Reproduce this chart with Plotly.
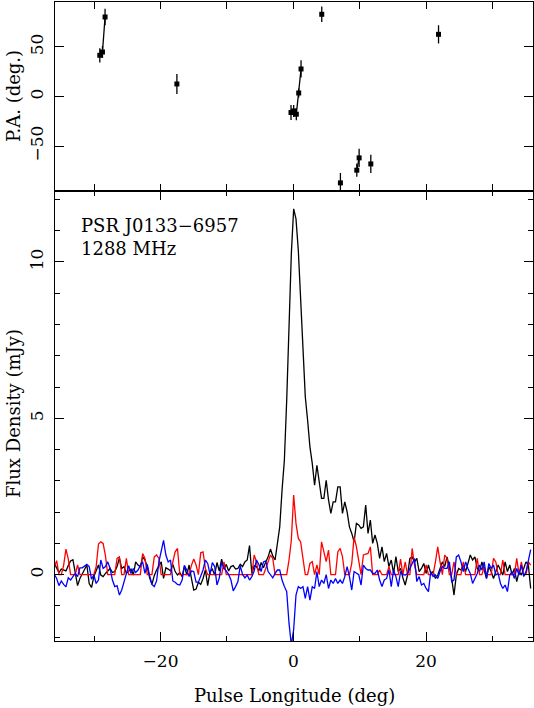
import numpy as np
import plotly.graph_objects as go

# ---------------- data ----------------
LON0 = -36.0      # longitude of first profile bin (deg)
DLON = 0.35       # bin width (deg)

# Total intensity (black), mJy
I_vals = [0.36,0.22,0.07,0.18,0.15,0.12,0.29,0.44,0.48,0.10,
          -0.35,-0.12,0.01,0.16,0.31,-0.28,-0.41,-0.06,0.10,0.31,
          -0.01,-0.06,0.04,0.12,0.20,0.07,0.10,0.26,0.54,0.20,
          0.26,0.04,0.10,0.18,-0.01,0.41,0.31,0.26,0.57,0.47,
          0.26,-0.10,-0.31,-0.03,0.15,0.29,0.41,-0.12,0.22,0.18,
          0.12,0.33,0.10,-0.01,0.07,
          -0.06,0.29,-0.01,0.31,-0.12,-0.49,-0.46,-0.24,-0.31,-0.12,
          0.15,-0.35,0.10,0.18,-0.01,0.39,0.12,0.50,0.18,0.33,
          0.12,0.26,0.29,0.18,0.20,0.33,0.26,0.41,0.47,0.93,
          0.04,0.29,0.26,0.12,0.39,0.22,0.41,0.57,0.82,0.60,
          0.47,1.00,1.53,2.70,3.66,5.58,7.70,10.27,11.70,11.38,
          10.37,8.77,7.50,5.69,4.94,4.09,3.56,2.86,3.50,2.97,
          2.44,2.44,3.02,2.39,1.96,2.33,2.33,2.81,2.81,1.96,
          2.33,2.01,1.53,1.32,1.05,1.64,1.59,1.48,1.53,2.23,
          1.32,1.75,1.00,1.27,1.00,0.52,0.89,0.42,0.68,0.26,
          0.47,0.04,0.58,0.10,
          0.20,-0.10,
          -0.33,-0.01,0.52,0.57,0.41,0.52,0.10,0.20,0.36,0.04,
          0.31,0.04,0.10,-0.12,-0.01,0.20,0.41,0.26,0.57,0.26,
          -0.12,-0.65,-0.01,0.20,0.15,0.31,0.10,0.36,0.63,0.47,
          0.57,0.20,0.10,0.41,0.10,-0.12,0.26,0.10,-0.12,0.10,
          0.31,0.15,-0.01,0.41,0.10,0.31,-0.01,0.20,-0.22,0.10,
          -0.01,0.20,0.41,0.31,-0.44]

# Linear polarisation (red), mJy
L_vals = [0.25,0.45,0,0,0.30,0.82,0.50,0,0,0,
          0.31,0,0,0,0,0,0,0,0.26,0.98,
          1.05,1.00,0.60,0,0,0,0,0.52,0.57,0,
          0,0.52,0,0,0,0,0,0,0.68,0.52,
          0,0,0,0.57,0.63,0.52,0,0,0,0,
          0,0.41,0.73,0.84,0,
          0,0,0,0,0.30,0.50,0.31,0,0.70,0.73,
          0.20,0,0,0,0,0,0,0,0.41,0,
          0,0,0,0,0,0,0,0,0,0,
          0,0.63,0.41,0,0,0,0.20,0.41,0.63,0.52,
          0,0,0,0,0,0,0.47,1.10,2.55,1.64,
          1.16,1.05,0.52,0,0,0.36,0.42,0,0.31,0,
          1.05,0.68,0.42,0.79,0,0,0,0.73,0.84,0.58,
          0,0,0,0.36,1.21,0.89,0.47,0,0.63,0.66,
          0.68,0.89,0,0,0,0.15,0,0,0,0.26,
          0,0,0,0,
          0.50,0,
          0.41,0,0,0.84,0.31,0,0,0,0,0.31,
          0,0,0,0.41,0.89,0.41,0,0.63,0.52,0,
          0,0.41,0,0,0,0.41,0,0,0,0,
          0,0.52,0,0,0.26,0,0,0,0.52,0.41,
          0,0,0.47,0,0,0,0,0,0.52,0,
          0.41,0,0,0.41,0.31]

# Circular polarisation (blue), mJy
V_vals = [0.01,-0.12,-0.35,-0.20,-0.31,-0.39,-0.10,-0.17,-0.06,0.04,
          -0.06,0.22,0.22,0.29,0.33,0.26,-0.14,-0.01,-0.28,-0.17,
          0.47,0.20,0.26,0.41,0.20,-0.17,-0.38,-0.35,-0.65,-0.49,
          -0.22,-0.01,0.29,0.04,0.20,0.07,0.15,0.29,0.41,0.04,
          0.33,-0.03,-0.31,-0.38,-0.20,0.41,0.71,1.10,0.63,0.41,
          0.47,-0.20,-0.24,-0.31,-0.33,
          -0.17,0.29,0.15,-0.06,0.12,0.10,-0.24,-0.24,-0.01,0.15,
          0.47,0.36,0.01,0.39,0.26,-0.33,-0.10,0.39,0.22,0.10,
          0.01,-0.17,-0.52,-0.38,-0.22,0.29,0.01,-0.10,-0.01,-0.17,
          -0.06,0.12,0.47,0.33,0.10,0.41,0.44,0.10,-0.01,-0.10,
          0.04,0.15,0.15,-0.17,-0.38,-0.54,-1.55,-2.25,-1.75,-0.65,
          -0.38,-0.44,-0.38,-0.76,-0.38,-0.81,-0.38,-0.44,0.10,-0.38,
          -0.17,-0.28,0.00,-0.44,-0.17,-0.28,-0.12,-0.28,-0.17,-0.28,
          -0.06,0.26,-0.06,-0.49,0.10,0.04,0.00,-0.33,0.31,0.20,
          0.15,0.15,0.04,0.04,0.15,-0.17,-0.38,-0.17,-0.12,0.15,
          -0.38,0.15,-0.06,-0.38,
          0.10,0.00,
          -0.01,0.04,0.20,0.31,0.52,-0.22,-0.06,-0.33,-0.28,-0.44,
          -0.54,0.10,-0.06,-0.01,-0.12,0.10,0.26,0.20,0.20,0.41,
          -0.22,-0.17,0.57,0.63,0.41,0.10,0.41,0.20,0.04,-0.28,
          -0.12,0.04,0.31,0.15,0.41,-0.12,0.36,0.20,0.31,-0.01,
          0.04,-0.28,-0.44,-0.33,-0.54,-0.01,0.10,-0.12,0.20,-0.01,
          0.31,-0.06,0.10,0.40,0.80]

# Position angle points
PA_lon = [-29.15, -28.75, -28.36, -17.54, -0.35, 0.05, 0.45, 0.81, 1.16,
          4.28, 7.09, 9.56, 9.91, 11.67, 21.87]
PA_deg = [41.6, 44.9, 80.2, 12.7, -16.1, -14.5, -17.8, 3.6, 27.8,
          82.9, -87.0, -74.2, -61.8, -67.9, 62.7]
PA_err = [7.2, 6.0, 8.3, 10.0, 7.5, 6.0, 6.0, 4.5, 8.7,
          7.8, 10.0, 6.7, 9.2, 9.2, 9.2]

PSR_NAME = "PSR J0133\u22126957"
FREQ = "1288 MHz"

# ---------------- figure ----------------
lon = LON0 + DLON * np.arange(len(I_vals))

# connect only adjacent PA bins
pa_x, pa_y = [], []
for k in range(len(PA_lon)):
    if k > 0 and PA_lon[k] - PA_lon[k - 1] > 0.6:
        pa_x.append(None)
        pa_y.append(None)
    pa_x.append(PA_lon[k])
    pa_y.append(PA_deg[k])

FONT = "DejaVu Serif"
LW = 1.3

fig = go.Figure()
fig.add_trace(go.Scatter(x=lon, y=I_vals, mode="lines",
                         line=dict(color="black", width=LW),
                         xaxis="x", yaxis="y", showlegend=False))
fig.add_trace(go.Scatter(x=lon, y=L_vals, mode="lines",
                         line=dict(color="#ff0000", width=LW),
                         xaxis="x", yaxis="y", showlegend=False))
fig.add_trace(go.Scatter(x=lon, y=V_vals, mode="lines",
                         line=dict(color="#0000ff", width=LW),
                         xaxis="x", yaxis="y", showlegend=False))

fig.add_trace(go.Scatter(x=pa_x, y=pa_y, mode="lines",
                         line=dict(color="black", width=LW),
                         xaxis="x2", yaxis="y2", showlegend=False))
fig.add_trace(go.Scatter(x=PA_lon, y=PA_deg, mode="markers",
                         marker=dict(symbol="square", size=5, color="black"),
                         error_y=dict(type="data", array=PA_err, visible=True,
                                      color="black", thickness=1.3, width=0),
                         xaxis="x2", yaxis="y2", showlegend=False))

split = 0.7042
axis_common = dict(showline=True, linecolor="black", linewidth=1,
                   mirror="ticks", ticks="inside", tickcolor="black",
                   tickwidth=1, showgrid=False, zeroline=False,
                   tickfont=dict(family=FONT, size=17, color="black"))

fig.update_layout(
    width=534, height=708, autosize=False,
    margin=dict(l=55, r=1, t=2, b=67),
    paper_bgcolor="white", plot_bgcolor="white",
    xaxis=dict(domain=[0, 1], anchor="y", range=[-35.9, 36.1],
               tickmode="linear", tick0=0, dtick=20, ticklen=9,
               minor=dict(dtick=10, ticklen=5, ticks="inside",
                          tickcolor="black", tickwidth=1),
               ticklabelstandoff=5,
               **axis_common),
    yaxis=dict(domain=[0, split], anchor="x", range=[-2.12, 12.27],
               tickmode="linear", tick0=0, dtick=5, ticklen=9,
               minor=dict(dtick=1, ticklen=5, ticks="inside",
                          tickcolor="black", tickwidth=1),
               tickangle=-90, ticklabelstandoff=4,
               **axis_common),
    xaxis2=dict(domain=[0, 1], anchor="y2", range=[-35.9, 36.1],
                tickmode="linear", tick0=0, dtick=10, ticklen=7,
                showticklabels=False, **axis_common),
    yaxis2=dict(domain=[split, 1], anchor="x2", range=[-95.2, 95.3],
                tickmode="linear", tick0=0, dtick=50, ticklen=9,
                tickangle=-90, ticklabelstandoff=4,
                **axis_common),
)

ann_font = dict(family=FONT, size=18, color="black")
fig.add_annotation(text="Pulse Longitude (deg)", xref="paper", yref="paper",
                   x=(294 - 55) / 478, y=(641 - 696) / 639,
                   xanchor="center", yanchor="middle", showarrow=False,
                   font=ann_font)
fig.add_annotation(text="Flux Density (mJy)", xref="paper", yref="paper",
                   x=(13 - 55) / 478, y=(641 - 414) / 639, textangle=-90,
                   xanchor="center", yanchor="middle", showarrow=False,
                   font=ann_font)
fig.add_annotation(text="P.A. (deg.)", xref="paper", yref="paper",
                   x=(13 - 55) / 478, y=(641 - 96) / 639, textangle=-90,
                   xanchor="center", yanchor="middle", showarrow=False,
                   font=ann_font)
fig.add_annotation(text=PSR_NAME, xref="paper", yref="paper",
                   x=(79 - 55) / 478, y=(641 - 225) / 639,
                   xanchor="left", yanchor="middle", showarrow=False,
                   font=dict(family=FONT, size=18, color="black"))
fig.add_annotation(text=FREQ, xref="paper", yref="paper",
                   x=(79 - 55) / 478, y=(641 - 248) / 639,
                   xanchor="left", yanchor="middle", showarrow=False,
                   font=dict(family=FONT, size=18, color="black"))

fig.write_html("out.html", config={"displayModeBar": False})

# remove the default page margin so the figure fills the window exactly
with open("out.html", "r", encoding="utf-8") as fh:
    html = fh.read()
html = html.replace("<head>", "<head><style>html,body{margin:0;padding:0;overflow:hidden;}</style>", 1)
with open("out.html", "w", encoding="utf-8") as fh:
    fh.write(html)
